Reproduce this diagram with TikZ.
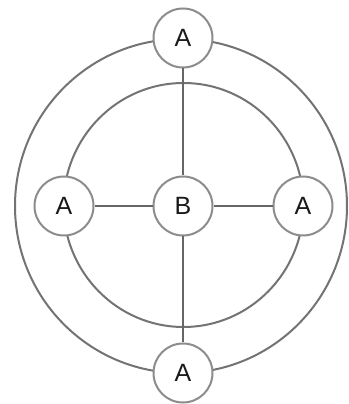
\documentclass[tikz,border=0pt]{standalone}
\usepackage{fontspec}
\setmainfont{Liberation Sans}
\begin{document}
\begin{tikzpicture}[x=1pt,y=1pt,
  ring/.style={draw=black!55, line width=2pt},
  vert/.style={circle, draw=black!45, line width=2pt, fill=white, minimum size=59pt, inner sep=0pt, font=\fontsize{25}{25}\selectfont, text=black!90},
  link/.style={draw=black!60, line width=1.8pt}]
\useasboundingbox (0,0) rectangle (348,404);
\draw[ring] (181,198) ellipse [x radius=166, y radius=167];
\draw[ring] (183.5,199) ellipse [x radius=120, y radius=122];
\node[vert] (top) at (183,366) {A};
\node[vert] (left) at (64,198) {A};
\node[vert] (mid) at (183,198) {B};
\node[vert] (right) at (303,198) {A};
\node[vert] (bot) at (183,31) {A};
\draw[link] (top) -- (mid);
\draw[link] (mid) -- (bot);
\draw[link] (left) -- (mid);
\draw[link] (mid) -- (right);
\end{tikzpicture}
\end{document}
